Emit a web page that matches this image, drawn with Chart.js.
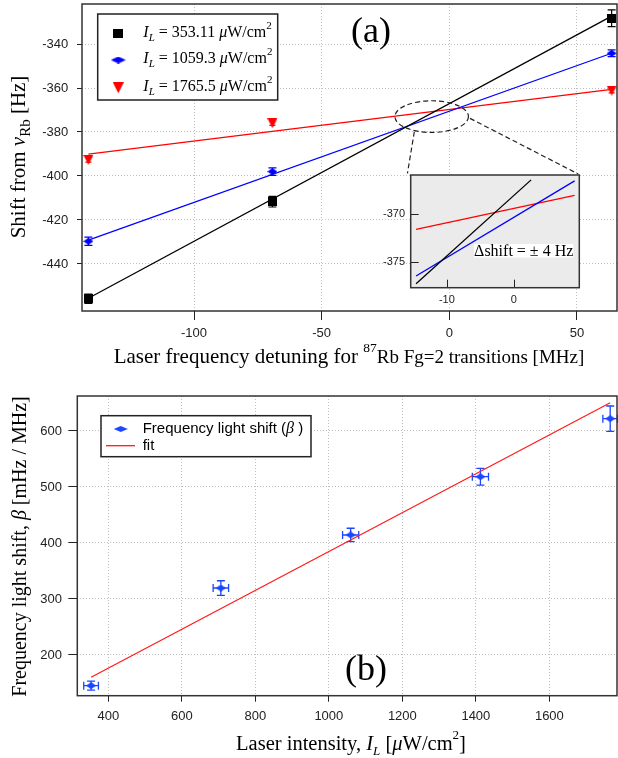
<!DOCTYPE html>
<html><head><meta charset="utf-8">
<script src="https://cdn.jsdelivr.net/npm/chart.js@4.4.1/dist/chart.umd.min.js"></script>
<style>
body{margin:0;background:#fff;}
#wrap{position:relative;width:618px;height:758px;overflow:hidden;}
canvas{position:absolute;}
</style>
</head><body>
<div id="wrap">
<canvas id="ca" width="618" height="370" style="left:0;top:0"></canvas>
<canvas id="cb" width="618" height="388" style="left:0;top:370px"></canvas>
<canvas id="ci" width="240" height="145" style="left:360px;top:165px"></canvas>
</div>
<script>
// ---------- Panel (a) data ----------
const detuning = [-141.4, -69.3, 63.6];
const shiftLow = [-455.8, -411.7, -328.3];      // I_L = 353.11
const shiftLowErr = [2.1, 2.4, 3.8];
const shiftMid = [-429.7, -398.0, -344.2];      // I_L = 1059.3
const shiftMidErr = [1.9, 1.7, 1.5];
const shiftHigh = [-392.7, -376.0, -361.2];     // I_L = 1765.5
const shiftHighErr = [1.0, 1.0, 1.0];
const fitDetuning = [-141.4, 63.6];
const fitLow = [-455.6, -327.3];
const fitMid = [-429.2, -344.2];
const fitHigh = [-390.1, -360.6];
const intensityLabels = ['353.11', '1059.3', '1765.5'];
const detuningTicks = [-100, -50, 0, 50];
const shiftTicks = [-440, -420, -400, -380, -360, -340];

// ---------- Inset data ----------
const insetLowX = [-14.6, 2.6];
const insetLowY = [-377.2, -366.5];
const insetMidX = [-14.6, 9.1];
const insetMidY = [-376.4, -366.6];
const insetHighX = [-14.6, 9.1];
const insetHighY = [-371.6, -368.1];
const insetXTicks = [-10, 0];
const insetYTicks = [-375, -370];

// ---------- Panel (b) data ----------
const intensity = [353.11, 706.2, 1059.3, 1412.4, 1765.5];
const beta = [145.2, 319.6, 414.3, 518.4, 622.0];
const betaErr = [8, 13, 12, 15, 22.6];
const intensityErr = [20, 21, 22, 22, 20];
const fitIntensity = [353.11, 1765.5];
const fitBeta = [160.2, 650.5];
const intensityTicks = [400, 600, 800, 1000, 1200, 1400, 1600];
const betaTicks = [200, 300, 400, 500, 600];

// ---------- helpers ----------
const SERIF = '"Liberation Serif", "Times New Roman", serif';
const SANS = '"Liberation Sans", Arial, sans-serif';
const sf = (s, it) => (it ? 'italic ' : '') + s + 'px ' + SERIF;
const ssf = (s, it) => (it ? 'italic ' : '') + s + 'px ' + SANS;
Chart.defaults.font.family = SANS;

function marker(shape, w, h, color) {
  const c = document.createElement('canvas');
  c.width = w; c.height = h;
  const g = c.getContext('2d');
  g.fillStyle = color;
  g.beginPath();
  if (shape === 'square') g.rect(0, 0, w, h);
  else if (shape === 'diamond') { g.moveTo(w/2, 0); g.lineTo(w, h/2); g.lineTo(w/2, h); g.lineTo(0, h/2); g.closePath(); }
  else { g.moveTo(0, 0); g.lineTo(w, 0); g.lineTo(w/2, h); g.closePath(); }
  g.fill();
  return c;
}

function rich(ctx, segs, x, y, align, rotate) {
  ctx.save();
  ctx.translate(x, y);
  if (rotate) ctx.rotate(rotate);
  ctx.textBaseline = 'alphabetic';
  ctx.textAlign = 'left';
  let total = 0;
  segs.forEach(s => { ctx.font = s.f; s.w = ctx.measureText(s.t).width; total += s.w; });
  let cx = align === 'center' ? -total / 2 : 0;
  segs.forEach(s => { ctx.font = s.f; ctx.fillStyle = s.c || '#000'; ctx.fillText(s.t, cx, s.dy || 0); cx += s.w; });
  ctx.restore();
}

function axis(min, max, ticks, o) {
  return {
    type: 'linear', min, max,
    afterBuildTicks: s => { s.ticks = ticks.map(v => ({ value: v })); },
    afterFit: s => {
      if (o.vertical) s.width = o.fixed; else s.height = o.fixed;
      s.paddingTop = 0; s.paddingBottom = 0; s.paddingLeft = 0; s.paddingRight = 0;
    },
    ticks: { callback: v => String(v), padding: o.pad, font: { family: SANS, size: o.size || 13 }, color: '#222', maxRotation: 0, autoSkip: false },
    grid: { display: true, drawOnChartArea: o.grid !== false, drawTicks: o.tickLen > 0, tickLength: o.tickLen || 0,
            tickColor: '#222', tickWidth: 1, tickBorderDash: [], color: 'rgba(0,0,0,0.25)', lineWidth: 1 },
    border: { display: false, dash: [1, 2] }
  };
}

const errorBars = {
  id: 'errorBars',
  beforeDatasetsDraw(chart) {
    const ctx = chart.ctx, xs = chart.scales.x, ys = chart.scales.y;
    chart.data.datasets.forEach(ds => {
      if (!ds.errY && !ds.errX) return;
      ctx.save();
      ctx.strokeStyle = ds.borderColor; ctx.lineWidth = ds.errWidth || 1.2;
      const cap = ds.errCap || 4;
      ds.data.forEach((p, j) => {
        const px = xs.getPixelForValue(p.x), py = ys.getPixelForValue(p.y);
        ctx.beginPath();
        if (ds.errY) {
          const y1 = ys.getPixelForValue(p.y - ds.errY[j]), y2 = ys.getPixelForValue(p.y + ds.errY[j]);
          ctx.moveTo(px, y1); ctx.lineTo(px, y2);
          ctx.moveTo(px - cap, y1); ctx.lineTo(px + cap, y1);
          ctx.moveTo(px - cap, y2); ctx.lineTo(px + cap, y2);
        }
        if (ds.errX) {
          const x1 = xs.getPixelForValue(p.x - ds.errX[j]), x2 = xs.getPixelForValue(p.x + ds.errX[j]);
          ctx.moveTo(x1, py); ctx.lineTo(x2, py);
          ctx.moveTo(x1, py - cap); ctx.lineTo(x1, py + cap);
          ctx.moveTo(x2, py - cap); ctx.lineTo(x2, py + cap);
        }
        ctx.stroke();
      });
      ctx.restore();
    });
  }
};

function frame(ctx, a, w) {
  ctx.save(); ctx.strokeStyle = '#333'; ctx.lineWidth = w || 1.5;
  ctx.strokeRect(a.left, a.top, a.right - a.left, a.bottom - a.top);
  ctx.restore();
}

const pts = (xs, ys) => xs.map((x, i) => ({ x, y: ys[i] }));
const colA = ['#000000', '#0000ff', '#ff0000'];

// ---------- Panel (a) chart ----------
const mkA = [marker('square', 9, 9, colA[0]), marker('diamond', 10, 7, colA[1]), marker('tri', 10, 10, colA[2])];
const legA = [marker('square', 10, 9, colA[0]), marker('diamond', 15, 7, colA[1]), marker('tri', 11, 11, colA[2])];

const decorA = {
  id: 'decorA',
  afterDraw(chart) {
    const ctx = chart.ctx, a = chart.chartArea, xs = chart.scales.x, ys = chart.scales.y;
    frame(ctx, a, 1.5);
    // zoom ellipse and connectors
    ctx.save();
    ctx.strokeStyle = '#222'; ctx.lineWidth = 1.2; ctx.setLineDash([5, 3]);
    const cx = xs.getPixelForValue(-6.9), cy = ys.getPixelForValue(-373);
    const rx = xs.getPixelForValue(-6.9 + 14.4) - cx, ry = cy - ys.getPixelForValue(-373 + 7.2);
    ctx.beginPath(); ctx.ellipse(cx, cy, rx, ry, 0, 0, Math.PI * 2); ctx.stroke();
    ctx.beginPath();
    ctx.moveTo(xs.getPixelForValue(-13.7), ys.getPixelForValue(-379.9));
    ctx.lineTo(xs.getPixelForValue(-16.4), ys.getPixelForValue(-398.8));
    ctx.moveTo(xs.getPixelForValue(8.1), ys.getPixelForValue(-373.8));
    ctx.lineTo(xs.getPixelForValue(50.5), ys.getPixelForValue(-399.1));
    ctx.stroke();
    ctx.restore();
    // legend
    ctx.save();
    ctx.fillStyle = '#fff'; ctx.fillRect(97.7, 14, 180, 86);
    ctx.strokeStyle = '#222'; ctx.lineWidth = 1.5; ctx.strokeRect(97.7, 14, 180, 86);
    const my = [33.7, 60, 87.8], by = [36.7, 63.3, 91];
    intensityLabels.forEach((lab, i) => {
      const m = legA[i];
      ctx.drawImage(m, 118.3 - m.width / 2, my[i] - m.height / 2);
      rich(ctx, [
        { t: 'I', f: sf(16, true) }, { t: 'L', f: sf(11, true), dy: 4 },
        { t: ' = ' + lab + ' ', f: sf(16) }, { t: 'μ', f: sf(16, true) },
        { t: 'W/cm', f: sf(16) }, { t: '2', f: sf(11), dy: -8 }
      ], 143.3, by[i]);
    });
    ctx.restore();
    // (a)
    ctx.save(); ctx.font = sf(36); ctx.fillStyle = '#000'; ctx.textAlign = 'center'; ctx.fillText('(a)', 371, 42); ctx.restore();
    // axis titles
    rich(ctx, [{ t: 'Shift from ', f: sf(21) }, { t: 'ν', f: sf(21, true) }, { t: 'Rb', f: sf(15), dy: 5 }, { t: ' [Hz]', f: sf(21) }], 25, 157, 'center', -Math.PI / 2);
    rich(ctx, [{ t: 'Laser frequency detuning for ', f: sf(21) }, { t: '87', f: sf(13.5), dy: -11 }, { t: 'Rb Fg=2 transitions [MHz]', f: sf(19) }], 349, 363, 'center');
  }
};

new Chart(document.getElementById('ca'), {
  type: 'scatter',
  data: { datasets: [
    { data: pts(detuning, shiftLow), pointStyle: mkA[0], pointRadius: 5, borderColor: colA[0], errY: shiftLowErr, errCap: 4, clip: false },
    { data: pts(detuning, shiftMid), pointStyle: mkA[1], pointRadius: 5, borderColor: colA[1], errY: shiftMidErr, errCap: 4, clip: false },
    { data: pts(detuning, shiftHigh), pointStyle: mkA[2], pointRadius: 5, borderColor: colA[2], errY: shiftHighErr, errCap: 3, clip: false },
    { data: pts(fitDetuning, fitLow), showLine: true, pointRadius: 0, borderColor: colA[0], borderWidth: 1.3, clip: false },
    { data: pts(fitDetuning, fitMid), showLine: true, pointRadius: 0, borderColor: colA[1], borderWidth: 1.3, clip: false },
    { data: pts(fitDetuning, fitHigh), showLine: true, pointRadius: 0, borderColor: colA[2], borderWidth: 1.3, clip: false }
  ]},
  options: {
    responsive: false, animation: false, devicePixelRatio: 1, events: [],
    layout: { autoPadding: false, padding: { top: 4, right: 1, left: 0, bottom: 0 } },
    plugins: { legend: { display: false }, tooltip: { enabled: false } },
    scales: {
      x: axis(-143.9, 65.7, detuningTicks, { fixed: 59, tickLen: 9, pad: 5.5 }),
      y: axis(-461.4, -321.8, shiftTicks, { fixed: 82, tickLen: 5, pad: 8.7, vertical: true })
    }
  },
  plugins: [errorBars, decorA]
});

// ---------- Inset chart ----------
const decorI = {
  id: 'decorI',
  beforeDraw(chart) {
    const ctx = chart.ctx, a = chart.chartArea;
    ctx.save(); ctx.fillStyle = '#ebebeb'; ctx.fillRect(a.left, a.top, a.right - a.left, a.bottom - a.top); ctx.restore();
  },
  afterDraw(chart) {
    const ctx = chart.ctx, a = chart.chartArea, xs = chart.scales.x, ys = chart.scales.y;
    ctx.save();
    ctx.strokeStyle = '#222'; ctx.lineWidth = 1;
    ctx.beginPath();
    insetXTicks.forEach(v => { const p = Math.round(xs.getPixelForValue(v)) + 0.5; ctx.moveTo(p, a.bottom); ctx.lineTo(p, a.bottom - 8); });
    insetYTicks.forEach(v => { const p = Math.round(ys.getPixelForValue(v)) + 0.5; ctx.moveTo(a.left, p); ctx.lineTo(a.left + 8, p); });
    ctx.stroke();
    ctx.restore();
    frame(ctx, a, 1.5);
    ctx.save();
    ctx.fillStyle = '#fff'; ctx.fillRect(114, 79, 99.3, 13.5);
    ctx.fillStyle = '#000'; ctx.font = sf(16); ctx.textAlign = 'center'; ctx.textBaseline = 'alphabetic';
    ctx.fillText('Δshift = ± 4 Hz', 163.7, 91);
    ctx.restore();
  }
};

new Chart(document.getElementById('ci'), {
  type: 'scatter',
  data: { datasets: [
    { data: pts(insetLowX, insetLowY), showLine: true, pointRadius: 0, borderColor: colA[0], borderWidth: 1.3 },
    { data: pts(insetMidX, insetMidY), showLine: true, pointRadius: 0, borderColor: colA[1], borderWidth: 1.3 },
    { data: pts(insetHighX, insetHighY), showLine: true, pointRadius: 0, borderColor: colA[2], borderWidth: 1.3 }
  ]},
  options: {
    responsive: false, animation: false, devicePixelRatio: 1, events: [],
    layout: { autoPadding: false, padding: { top: 10, right: 20.7, left: 0, bottom: 0 } },
    plugins: { legend: { display: false }, tooltip: { enabled: false } },
    scales: {
      x: axis(-15.4, 9.8, insetXTicks, { fixed: 22.3, tickLen: 0, pad: 5.7, size: 11, grid: false }),
      y: axis(-377.6, -366, insetYTicks, { fixed: 50.7, tickLen: 0, pad: 5.7, size: 11, grid: false, vertical: true })
    }
  },
  plugins: [decorI]
});

// ---------- Panel (b) chart ----------
const blueB = '#1a46ff';
const mkB = marker('diamond', 10, 7, blueB);
const legBm = marker('diamond', 14, 6, blueB);
const decorB = {
  id: 'decorB',
  afterDraw(chart) {
    const ctx = chart.ctx, a = chart.chartArea;
    frame(ctx, a, 1.5);
    ctx.save();
    ctx.fillStyle = '#fff'; ctx.fillRect(101, 45.7, 210, 41);
    ctx.strokeStyle = '#222'; ctx.lineWidth = 1.5; ctx.strokeRect(101, 45.7, 210, 41);
    ctx.drawImage(legBm, 120.7 - legBm.width / 2, 59 - legBm.height / 2);
    rich(ctx, [{ t: 'Frequency light shift (', f: ssf(15) }, { t: 'β', f: sf(16, true) }, { t: ' )', f: ssf(15) }], 142.7, 63.3);
    ctx.strokeStyle = '#ff1a1a'; ctx.lineWidth = 1.3;
    ctx.beginPath(); ctx.moveTo(106, 75.7); ctx.lineTo(135, 75.7); ctx.stroke();
    rich(ctx, [{ t: 'fit', f: ssf(15) }], 142.7, 80);
    ctx.font = sf(36); ctx.fillStyle = '#000'; ctx.textAlign = 'center'; ctx.fillText('(b)', 366, 310);
    ctx.restore();
    rich(ctx, [{ t: 'Frequency light shift, ', f: sf(20) }, { t: 'β', f: sf(20, true) }, { t: ' [mHz / MHz]', f: sf(20) }], 26, 176.5, 'center', -Math.PI / 2);
    rich(ctx, [{ t: 'Laser intensity, ', f: sf(20.5) }, { t: 'I', f: sf(20.5, true) }, { t: 'L', f: sf(13, true), dy: 5 },
               { t: ' [', f: sf(20.5) }, { t: 'μ', f: sf(20.5, true) }, { t: 'W/cm', f: sf(20.5) }, { t: '2', f: sf(13), dy: -11 }, { t: ']', f: sf(20.5) }], 351, 380, 'center');
  }
};

new Chart(document.getElementById('cb'), {
  type: 'scatter',
  data: { datasets: [
    { data: pts(intensity, beta), pointStyle: mkB, pointRadius: 5, borderColor: blueB, errY: betaErr, errX: intensityErr, errCap: 4, errWidth: 1.3, clip: false },
    { data: pts(fitIntensity, fitBeta), showLine: true, pointRadius: 0, borderColor: '#ff1a1a', borderWidth: 1.2, clip: false }
  ]},
  options: {
    responsive: false, animation: false, devicePixelRatio: 1, events: [],
    layout: { autoPadding: false, padding: { top: 26, right: 1, left: 0, bottom: 0 } },
    plugins: { legend: { display: false }, tooltip: { enabled: false } },
    scales: {
      x: axis(315.6, 1784, intensityTicks, { fixed: 62.3, tickLen: 6, pad: 7.2 }),
      y: axis(127.3, 662.5, betaTicks, { fixed: 77.3, tickLen: 9, pad: 6.3, vertical: true })
    }
  },
  plugins: [errorBars, decorB]
});
</script>
</body></html>
